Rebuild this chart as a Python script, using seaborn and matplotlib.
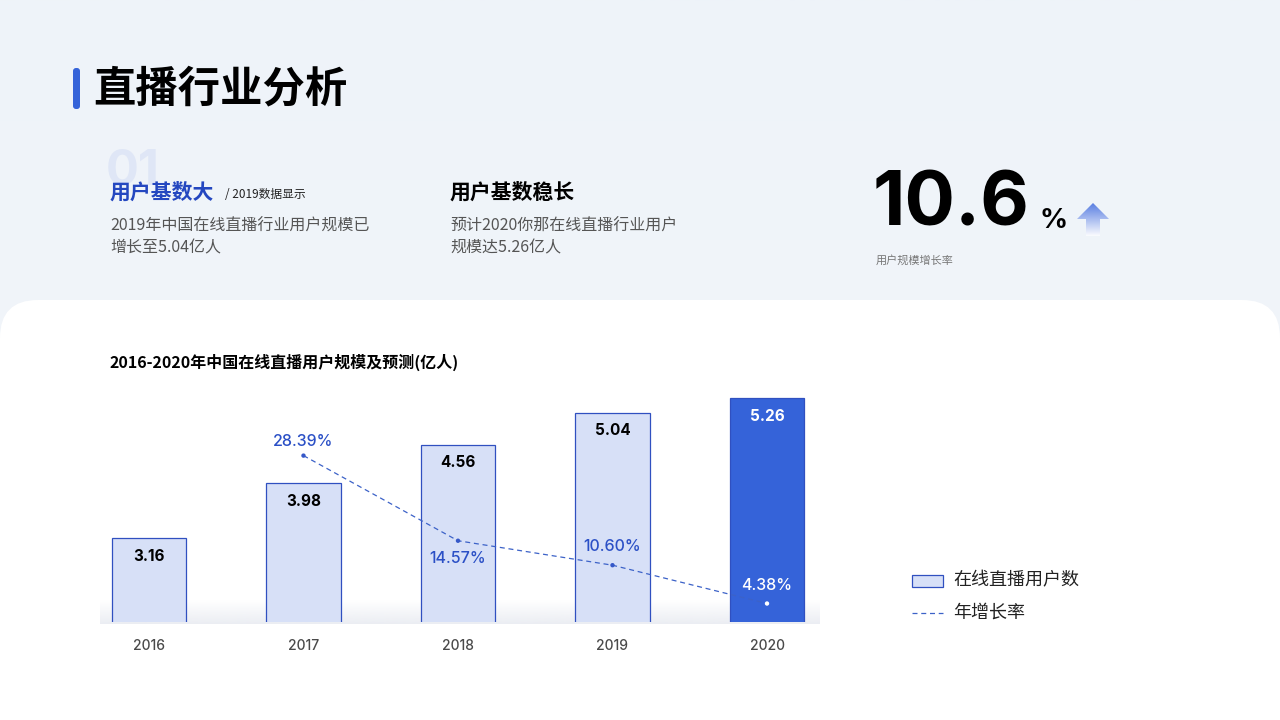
import numpy as np
import pandas as pd
import seaborn as sns
import matplotlib.pyplot as plt
from matplotlib.patches import FancyBboxPatch, Polygon, Rectangle
from matplotlib.lines import Line2D
from matplotlib.colors import to_rgb

# 数据
anos = ['2016', '2017', '2018', '2019', '2020']
usuarios = [3.16, 3.98, 4.56, 5.04, 5.26]          # 亿人
anos_cresc = ['2017', '2018', '2019', '2020']
crescimento = [28.39, 14.57, 10.60, 4.38]          # %
destaque = '10.6'

AZUL = '#3563d9'
AZUL_CLARO = '#d7e0f7'
AZUL_TEXTO = '#2b50c6'
CINZA = '#555555'
NUM = ['Inter', 'Noto Sans CJK SC', 'DejaVu Sans']

sns.set_theme(style='white')
plt.rcParams['font.family'] = ['Noto Sans CJK SC', 'DejaVu Sans']

fig = plt.figure(figsize=(12.8, 7.2), dpi=100)

# fundo em coordenadas de pixel
bg = fig.add_axes([0, 0, 1, 1], zorder=-10)
bg.set_xlim(0, 1280)
bg.set_ylim(720, 0)
bg.axis('off')
topo, base = np.array(to_rgb('#eef3f9')), np.array(to_rgb('#f4f7fb'))
grad = np.linspace(0, 1, 256)[:, None, None]
bg.imshow(topo * (1 - grad) + base * grad, extent=[0, 1280, 720, 0], aspect='auto', zorder=0)
bg.add_patch(FancyBboxPatch((0, 300), 1280, 500, boxstyle='round,pad=0,rounding_size=38',
                            fc='white', ec='none', zorder=1))

# sombra suave na base das barras
rgba = np.zeros((64, 1, 4))
rgba[..., :3] = to_rgb('#e3e6ee')
rgba[:, 0, 3] = np.linspace(0, 0.7, 64)
bg.imshow(rgba, extent=[100, 820, 624, 600], aspect='auto', zorder=2)

# cabeçalho
bg.add_patch(FancyBboxPatch((73, 68), 7, 41, boxstyle='round,pad=0,rounding_size=3',
                            fc=AZUL, ec='none', zorder=2))
bg.text(93, 89, '直播行业分析', fontsize=30.5, fontweight='heavy', color='black', va='center', zorder=3)

bg.text(106, 172, '01', fontsize=35, fontweight='bold', color='#dfe6f6', va='center', zorder=2,
        family=NUM)
bg.text(110, 192, '用户基数大', fontsize=15, fontweight='bold', color='#2447c0', va='center', zorder=3)
bg.text(225, 195, '/ 2019数据显示', fontsize=8.5, color='#222222', va='center', zorder=3)
bg.text(110, 226, '2019年中国在线直播行业用户规模已', fontsize=11.5, color=CINZA, va='center', zorder=3)
bg.text(110, 248, '增长至5.04亿人', fontsize=11.5, color=CINZA, va='center', zorder=3)

bg.text(450, 192, '用户基数稳长', fontsize=15, fontweight='bold', color='black', va='center', zorder=3)
bg.text(450, 226, '预计2020你那在线直播行业用户', fontsize=11.5, color=CINZA, va='center', zorder=3)
bg.text(450, 248, '规模达5.26亿人', fontsize=11.5, color=CINZA, va='center', zorder=3)

bg.text(873, 206, destaque, fontsize=54, fontweight='bold', color='black', va='center', zorder=3,
        family=NUM)
bg.text(1039, 221, '%', fontsize=20, fontweight='bold', color='black', va='center', zorder=3,
        family=NUM)
bg.text(876, 260, '用户规模增长率', fontsize=8, color='#777777', va='center', zorder=3)

# seta com degradê
seta = Polygon([(1093, 203), (1077, 219), (1086, 219), (1086, 236), (1100, 236), (1100, 219), (1109, 219)],
               closed=True, fc='none', ec='none', zorder=3)
bg.add_patch(seta)
c1, c2 = np.array(to_rgb('#5a7fe2')), np.array(to_rgb('#ffffff'))
g = np.linspace(0, 1, 64)[:, None, None]
img = bg.imshow(c1 * (1 - g) + c2 * g, extent=[1077, 1109, 237, 203], aspect='auto', zorder=3)
img.set_clip_path(seta)

bg.text(110, 362, '2016-2020年中国在线直播用户规模及预测(亿人)', fontsize=11.5, fontweight='bold',
        color='black', va='center', zorder=3)

# gráfico principal
df = pd.DataFrame({'ano': anos, 'usuarios': usuarios})
ax = fig.add_axes([100 / 1280, 98 / 720, 720 / 1280, 232 / 720])
ax.patch.set_visible(False)
cores = [AZUL_CLARO] * (len(anos) - 1) + [AZUL]
sns.barplot(data=df, x='ano', y='usuarios', hue='ano', palette=cores, legend=False,
            width=0.485, edgecolor='#3050c0', linewidth=0.9, saturation=1, ax=ax)
ax.set_ylim(1.9, 5.38)
ax.set_xlim(-0.317, 4.343)
for i, v in enumerate(usuarios):
    ax.annotate(f'{v:.2f}', (i, v), xytext=(0, -13), textcoords='offset points',
                ha='center', va='center', fontsize=11, fontweight='bold', family=NUM,
                color='white' if i == len(anos) - 1 else 'black')
ax.set_xlabel('')
ax.set_ylabel('')
ax.set_yticks([])
ax.tick_params(axis='x', length=0, pad=12, labelsize=10, labelcolor='#4a4a4a')
for lab in ax.get_xticklabels():
    lab.set_family(NUM)
    lab.set_fontweight('medium')
for s in ax.spines.values():
    s.set_visible(False)

# linha de crescimento
ax2 = ax.twinx()
pos = [anos.index(a) for a in anos_cresc]
dfc = pd.DataFrame({'pos': pos, 'cresc': crescimento})
sns.lineplot(data=dfc, x='pos', y='cresc', color='#3c62c8', linestyle=(0, (4, 3)), linewidth=0.9, ax=ax2)
cores_pts = ['#3558c8'] * (len(pos) - 1) + ['white']
ax2.scatter(pos, crescimento, s=10, c=cores_pts, zorder=5, linewidths=0)
ax2.set_ylim(1.38, 39.04)
desloc = [14, -18, 19, 18]
for p, c, d in zip(pos, crescimento, desloc):
    ax2.annotate(f'{c:.2f}%', (p, c), xytext=(0, d * 0.72), textcoords='offset points',
                 ha='center', va='center', fontsize=11.5, fontweight='medium', family=NUM,
                 color='white' if p == len(anos) - 1 else AZUL_TEXTO)
ax2.set_yticks([])
ax2.set_ylabel('')
ax2.set_xlabel('')
for s in ax2.spines.values():
    s.set_visible(False)

# legenda
bg.add_patch(Rectangle((912, 575), 31, 12, fc=AZUL_CLARO, ec='#3050c0', lw=0.9, zorder=3))
bg.text(953, 580, '在线直播用户数', fontsize=13, color='#222222', va='center', zorder=3)
bg.add_line(Line2D([912, 943], [613, 613], color='#3c62c8', lw=0.9, ls=(0, (4, 3)), zorder=3))
bg.text(953, 613, '年增长率', fontsize=13, color='#222222', va='center', zorder=3)

fig.savefig('out.png', dpi=100)
